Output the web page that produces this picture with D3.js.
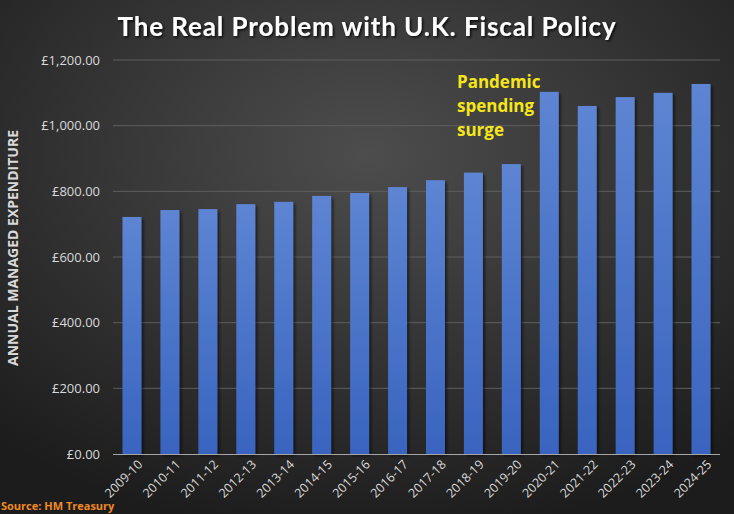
<!DOCTYPE html>
<html><head><meta charset="utf-8">
<script src="https://cdn.jsdelivr.net/npm/d3@7"></script>
<style>html,body{margin:0;padding:0;background:#2a2a2a;}svg{display:block;}</style>
</head><body>
<script>
const categories = ["2009-10","2010-11","2011-12","2012-13","2013-14","2014-15","2015-16","2016-17","2017-18","2018-19","2019-20","2020-21","2021-22","2022-23","2023-24","2024-25"];
const spending = [722, 743, 746, 761, 768, 786, 795, 813, 834, 857, 883, 1103, 1060, 1087, 1100, 1127];
const yTicks = [0, 200, 400, 600, 800, 1000, 1200];
const titleText = "The Real Problem with U.K. Fiscal Policy";
const yLabel = "ANNUAL MANAGED EXPENDITURE";
const sourceText = "Source: HM Treasury";
const annotationLines = ["Pandemic", "spending", "surge"];

const W = 734, H = 514;
const m = {left: 113, right: 14, top: 60, bottom: 60};
const svg = d3.select("body").append("svg").attr("width", W).attr("height", H);
const defs = svg.append("defs");

const bg = defs.append("radialGradient").attr("id","bg").attr("cx","50%").attr("cy","30%").attr("r","75%");
bg.append("stop").attr("offset","0%").attr("stop-color","#4d4d4d");
bg.append("stop").attr("offset","100%").attr("stop-color","#1c1c1c");
const bar = defs.append("linearGradient").attr("id","bar").attr("x1",0).attr("y1",0).attr("x2",0).attr("y2",1);
bar.append("stop").attr("offset","0%").attr("stop-color","#5d85d3");
bar.append("stop").attr("offset","100%").attr("stop-color","#3964bf");
const sh = defs.append("filter").attr("id","sh").attr("x","-30%").attr("y","-30%").attr("width","160%").attr("height","160%");
sh.append("feDropShadow").attr("dx",2).attr("dy",2).attr("stdDeviation",1.5).attr("flood-color","#000").attr("flood-opacity",0.55);
const tsh = defs.append("filter").attr("id","tsh");
tsh.append("feDropShadow").attr("dx",1.5).attr("dy",1.5).attr("stdDeviation",1).attr("flood-color","#000").attr("flood-opacity",0.8);

svg.append("rect").attr("width",W).attr("height",H).attr("fill","url(#bg)");

const x = d3.scaleBand().domain(categories).range([m.left, W - m.right]).paddingInner(0.5).paddingOuter(0.25);
const y = d3.scaleLinear().domain([0, 1200]).range([H - m.bottom, m.top]);

// gridlines
svg.append("g").selectAll("line").data(yTicks.filter(d => d > 0)).join("line")
  .attr("x1", m.left).attr("x2", W - m.right)
  .attr("y1", d => y(d)).attr("y2", d => y(d))
  .attr("stroke", "#5e5e5e").attr("stroke-width", 1);

// y axis labels
const fmt = d => "£" + d3.format(",.2f")(d);
const yAxis = svg.append("g").attr("transform", `translate(${m.left},0)`)
  .call(d3.axisLeft(y).tickValues(yTicks).tickFormat(fmt).tickSize(0).tickPadding(13));
yAxis.select(".domain").remove();
yAxis.selectAll("text").attr("fill","#d9d9d9").attr("font-family","'Open Sans', sans-serif").attr("font-size","13px");

// bars
svg.append("g").selectAll("rect").data(categories).join("rect")
  .attr("x", d => x(d)).attr("width", x.bandwidth())
  .attr("y", (d,i) => y(spending[i])).attr("height", (d,i) => y(0) - y(spending[i]))
  .attr("fill", "url(#bar)").attr("filter","url(#sh)");

// x axis
const xAxis = svg.append("g").attr("transform", `translate(0,${y(0)})`)
  .call(d3.axisBottom(x).tickSize(0).tickPadding(8));
xAxis.select(".domain").attr("stroke","#a6a6a6").attr("d", `M${m.left},0.5H${W - m.right}`);
xAxis.selectAll("text").attr("fill","#d9d9d9").attr("font-family","'Open Sans', sans-serif").attr("font-size","12.5px")
  .attr("text-anchor","end").attr("dy","0.3em")
  .attr("transform", "translate(3,3) rotate(-45)");

// title
svg.append("text").attr("x", W/2).attr("y", 36).attr("text-anchor","middle")
  .attr("fill","#ffffff").attr("font-family","Lato, 'Open Sans', sans-serif").attr("font-weight","bold")
  .attr("font-size","26px").attr("letter-spacing","0.9px").attr("filter","url(#tsh)").text(titleText);

// y label
svg.append("text").attr("transform", `translate(18,248) rotate(-90)`).attr("text-anchor","middle")
  .attr("fill","#d9d9d9").attr("font-family","'Open Sans', sans-serif").attr("font-weight","bold")
  .attr("font-size","14px").text(yLabel);

// annotation
svg.append("text").attr("fill","#f5e61b").attr("font-family","'Open Sans', sans-serif").attr("font-weight","bold")
  .attr("font-size","17px")
  .selectAll("tspan").data(annotationLines).join("tspan")
  .attr("x", 457).attr("y", (d,i) => 88 + i*24).text(d => d);

// source
svg.append("text").attr("x", 1).attr("y", 510).attr("fill","#f08a24")
  .attr("font-family","'Open Sans', sans-serif").attr("font-weight","bold").attr("font-size","11px").text(sourceText);
</script>
</body></html>
